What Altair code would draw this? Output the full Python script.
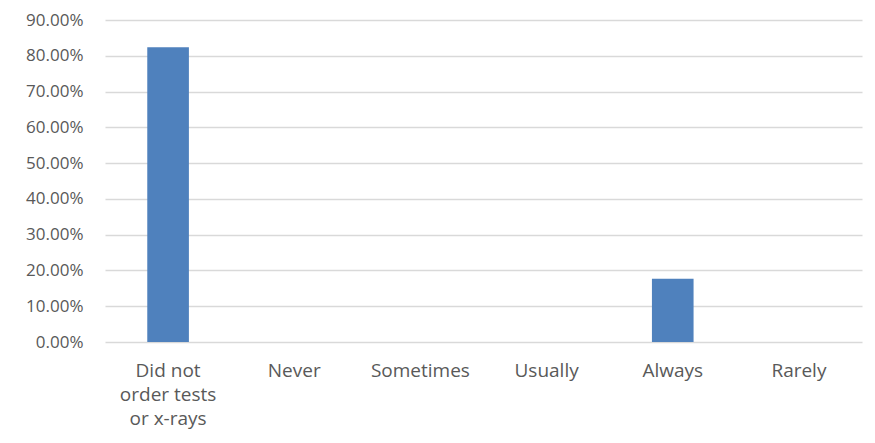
import altair as alt
import pandas as pd

categories = ["Did not order tests or x-rays", "Never", "Sometimes", "Usually", "Always", "Rarely"]
values = [0.8235, 0.0, 0.0, 0.0, 0.1765, 0.0]

df = pd.DataFrame({"category": categories, "value": values})

label_expr = ("datum.label == 'Did not order tests or x-rays' ? "
              "['Did not', 'order tests', 'or x-rays'] : datum.label")

chart = alt.Chart(df).mark_bar(color="#4f81bd").encode(
    x=alt.X("category:N", sort=categories, title=None,
            scale=alt.Scale(paddingInner=0.67, paddingOuter=0.335),
            axis=alt.Axis(labelAngle=0, labelExpr=label_expr, domain=False, ticks=False,
                          labelFontSize=19, labelColor="#595959", labelFont="Open Sans",
                          labelPadding=19, labelLineHeight=24, grid=False)),
    y=alt.Y("value:Q", title=None,
            scale=alt.Scale(domain=[0, 0.9], nice=False),
            axis=alt.Axis(format=".2%", values=[i / 10 for i in range(10)], domain=False, ticks=False,
                          labelFontSize=17, labelColor="#595959", labelFont="Open Sans",
                          labelPadding=22, gridColor="#d9d9d9", gridWidth=1.5)),
).properties(
    width=757, height=322,
    autosize=alt.AutoSizeParams(type="none"),
    padding={"left": 97, "top": 12, "right": 5, "bottom": 90},
).configure_view(stroke=None)

chart.save("out.html", embed_options={"renderer": "svg", "actions": False})
